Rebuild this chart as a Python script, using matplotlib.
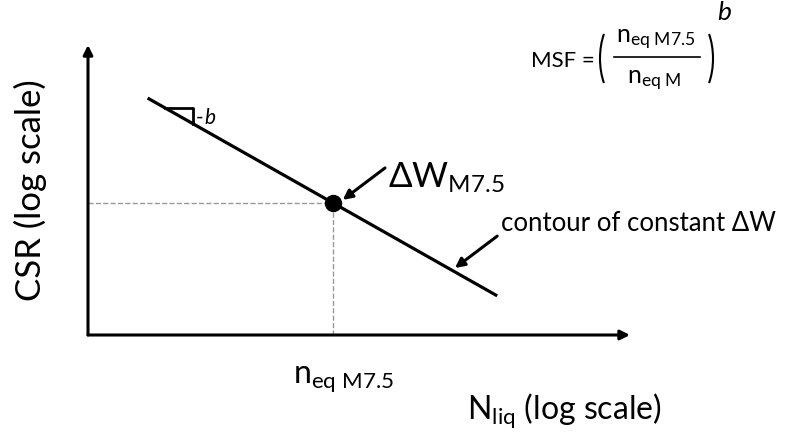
import matplotlib
matplotlib.use("Agg")
import matplotlib.pyplot as plt
from matplotlib.patches import Arc

plt.rcParams["font.family"] = ["Lato", "DejaVu Sans"]
plt.rcParams["mathtext.fontset"] = "custom"
plt.rcParams["mathtext.rm"] = "Lato"
plt.rcParams["mathtext.it"] = "Lato:italic"

# schematic coordinates (log N on x, log CSR on y, arbitrary units)
line_x = [1.1, 7.55]
line_y = [8.17, 1.35]
ref_x = 4.52
slope = (line_y[1] - line_y[0]) / (line_x[1] - line_x[0])
ref_y = line_y[0] + slope * (ref_x - line_x[0])

fig = plt.figure(figsize=(7.9, 4.4), dpi=100)
ax = fig.add_axes([88 / 790, 105 / 440, 542 / 790, 290 / 440])
ax.set_xlim(0, 10)
ax.set_ylim(0, 10)
ax.axis("off")

arrow = dict(arrowstyle="-|>", lw=2.2, color="black", mutation_scale=14, shrinkA=0, shrinkB=0)

# axes with arrow heads
ax.annotate("", xy=(10, 0), xytext=(0, 0), arrowprops=arrow, annotation_clip=False)
ax.annotate("", xy=(0, 10), xytext=(0, 0), arrowprops=arrow, annotation_clip=False)

# dashed guides to the reference point
ax.plot([0, ref_x], [ref_y, ref_y], ls="--", color="#999999", lw=1)
ax.plot([ref_x, ref_x], [0, ref_y], ls="--", color="#999999", lw=1)

# contour line and reference point
ax.plot(line_x, line_y, color="black", lw=2.3, solid_capstyle="butt")
ax.plot([ref_x], [ref_y], "o", color="black", ms=11.5)

# slope triangle
tri_y = 7.83
tri_x0 = line_x[0] + (tri_y - line_y[0]) / slope
tri_x1 = 1.94
ax.plot([tri_x0, tri_x1, tri_x1],
        [tri_y, tri_y, line_y[0] + slope * (tri_x1 - line_x[0])],
        color="black", lw=2.0)
ax.text(1.98, 7.5, "-", fontsize=15, va="center", ha="left")
ax.text(2.15, 7.5, "b", fontsize=15, va="center", ha="left", style="italic")

# annotations
ax.annotate("", xy=(4.70, 4.66), xytext=(5.48, 5.76), arrowprops=arrow)
ax.text(5.54, 5.1, r"$\Delta\mathrm{W}_{\mathrm{M7.5}}$", fontsize=25, ha="left", va="baseline")

ax.annotate("", xy=(6.77, 2.31), xytext=(7.55, 3.41), arrowprops=arrow)
ax.text(7.62, 3.86, "contour of constant \u0394W", fontsize=18.5, ha="left", va="center")

# axis labels
ax.text(4.72, -1.0, r"$\mathrm{n}_{\mathrm{eq\ M7.5}}$", fontsize=23, ha="center", va="top")
ax.text(7.0, -2.6, r"$\mathrm{N}_{\mathrm{liq}}$ (log scale)", fontsize=23, ha="left", va="center")
ax.text(-1.07, 5.0, "CSR (log scale)", fontsize=25, rotation=90, ha="center", va="center")

# MSF formula, built from pieces (positions in pixels)
def fx(px):
    return px / 790

def fy(py):
    return 1 - py / 440

fig.text(fx(531), fy(61), "MSF =", fontsize=16, ha="left", va="center")
fig.patches.append(Arc((fx(620), fy(58.5)), 40 / 790, 82 / 440, theta1=110, theta2=250,
                       transform=fig.transFigure, color="black", lw=1.5))
fig.patches.append(Arc((fx(693), fy(58.5)), 40 / 790, 82 / 440, theta1=-70, theta2=70,
                       transform=fig.transFigure, color="black", lw=1.5))
fig.text(fx(656), fy(40), r"$\mathrm{n}_{\mathrm{eq\ M7.5}}$", fontsize=18, ha="center", va="center")
fig.text(fx(654), fy(81), r"$\mathrm{n}_{\mathrm{eq\ M}}$", fontsize=18, ha="center", va="center")
fig.lines.append(plt.Line2D([fx(614), fx(700)], [fy(57), fy(57)], color="black", lw=1.2,
                            transform=fig.transFigure))
fig.text(fx(724), fy(12), "b", fontsize=19, style="italic", ha="center", va="center")

fig.savefig("out.png", dpi=100)
